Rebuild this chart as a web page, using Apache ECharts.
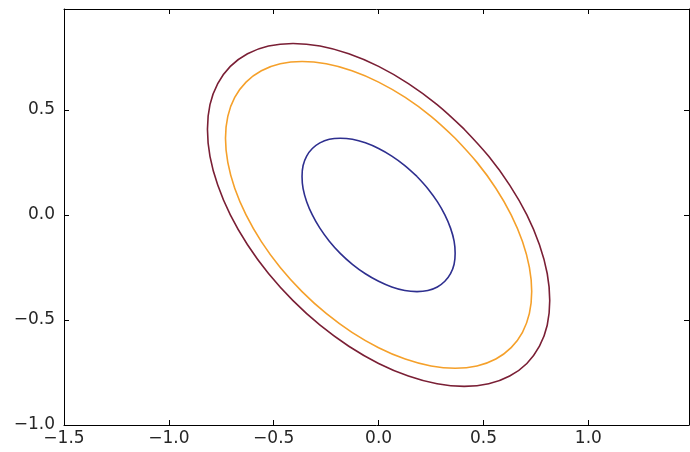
<!DOCTYPE html>
<html>
<head>
<meta charset="utf-8">
<script src="https://cdn.jsdelivr.net/npm/echarts@6/dist/echarts.min.js"></script>
<style>
  html, body { margin: 0; padding: 0; background: #fff; }
  #chart { width: 690px; height: 452px; }
</style>
</head>
<body>
<div id="chart"></div>
<script>
// contour lines (x, y points going round each ellipse)
var innerX = [0.183, 0.125, 0.063, 0.000, -0.063, -0.125, -0.183, -0.235, -0.280, -0.316, -0.343, -0.360, -0.365, -0.360, -0.343, -0.316, -0.280, -0.235,
              -0.183, -0.125, -0.063, 0.000, 0.063, 0.125, 0.183, 0.235, 0.280, 0.316, 0.343, 0.360, 0.365, 0.360, 0.343, 0.316, 0.280, 0.235, 0.183];
var innerY = [0.183, 0.235, 0.280, 0.316, 0.343, 0.360, 0.365, 0.360, 0.343, 0.316, 0.280, 0.235, 0.183, 0.125, 0.063, 0.000, -0.063, -0.125,
              -0.183, -0.235, -0.280, -0.316, -0.343, -0.360, -0.365, -0.360, -0.343, -0.316, -0.280, -0.235, -0.183, -0.125, -0.063, 0.000, 0.063, 0.125, 0.183];

var middleX = [0.365, 0.250, 0.127, 0.000, -0.127, -0.250, -0.365, -0.469, -0.559, -0.632, -0.686, -0.719, -0.730, -0.719, -0.686, -0.632, -0.559, -0.469,
               -0.365, -0.250, -0.127, 0.000, 0.127, 0.250, 0.365, 0.469, 0.559, 0.632, 0.686, 0.719, 0.730, 0.719, 0.686, 0.632, 0.559, 0.469, 0.365];
var middleY = [0.365, 0.469, 0.559, 0.632, 0.686, 0.719, 0.730, 0.719, 0.686, 0.632, 0.559, 0.469, 0.365, 0.250, 0.127, 0.000, -0.127, -0.250,
               -0.365, -0.469, -0.559, -0.632, -0.686, -0.719, -0.730, -0.719, -0.686, -0.632, -0.559, -0.469, -0.365, -0.250, -0.127, 0.000, 0.127, 0.250, 0.365];

var outerX = [0.408, 0.279, 0.142, 0.000, -0.142, -0.279, -0.408, -0.525, -0.625, -0.707, -0.767, -0.804, -0.816, -0.804, -0.767, -0.707, -0.625, -0.525,
              -0.408, -0.279, -0.142, 0.000, 0.142, 0.279, 0.408, 0.525, 0.625, 0.707, 0.767, 0.804, 0.816, 0.804, 0.767, 0.707, 0.625, 0.525, 0.408];
var outerY = [0.408, 0.525, 0.625, 0.707, 0.767, 0.804, 0.816, 0.804, 0.767, 0.707, 0.625, 0.525, 0.408, 0.279, 0.142, 0.000, -0.142, -0.279,
              -0.408, -0.525, -0.625, -0.707, -0.767, -0.804, -0.816, -0.804, -0.767, -0.707, -0.625, -0.525, -0.408, -0.279, -0.142, 0.000, 0.142, 0.279, 0.408];

// axis ranges and ticks
var xMin = -1.5, xMax = 1.48, yMin = -1.0, yMax = 0.98;
var tickStep = 0.5;

function pairs(xs, ys) {
    var out = [];
    for (var i = 0; i < xs.length; i++) out.push([xs[i], ys[i]]);
    return out;
}

function fmt(v) {
    return v.toFixed(1).replace('-', '\u2212');
}

var dom = document.getElementById('chart');
var myChart = echarts.init(dom, null, { renderer: 'canvas' });

var axisLine = { show: true, onZero: false, lineStyle: { color: '#000', width: 1 } };
var tick = { show: true, inside: true, length: 5, lineStyle: { color: '#000', width: 1 } };
var label = { color: '#262626', fontFamily: 'DejaVu Sans', fontSize: 17, formatter: fmt, showMaxLabel: false };

var option = {
    animation: false,
    backgroundColor: '#fff',
    grid: { left: 64, right: 1, top: 9, bottom: 27, containLabel: false },
    xAxis: [
        { type: 'value', min: xMin, max: xMax, interval: tickStep, position: 'bottom',
          axisLine: axisLine, axisTick: tick, splitLine: { show: false },
          axisLabel: Object.assign({}, label, { margin: 5 }) },
        { type: 'value', min: xMin, max: xMax, interval: tickStep, position: 'top',
          axisLine: axisLine, axisTick: tick, splitLine: { show: false }, axisLabel: { show: false } }
    ],
    yAxis: [
        { type: 'value', min: yMin, max: yMax, interval: tickStep, position: 'left',
          axisLine: axisLine, axisTick: tick, splitLine: { show: false },
          axisLabel: Object.assign({}, label, { margin: 9 }) },
        { type: 'value', min: yMin, max: yMax, interval: tickStep, position: 'right',
          axisLine: axisLine, axisTick: tick, splitLine: { show: false }, axisLabel: { show: false } }
    ],
    series: [
        { type: 'line', data: pairs(innerX, innerY), smooth: 0.35, showSymbol: false,
          lineStyle: { color: '#2e2f8f', width: 1.6 } },
        { type: 'line', data: pairs(middleX, middleY), smooth: 0.35, showSymbol: false,
          lineStyle: { color: '#f5a02a', width: 1.6 } },
        { type: 'line', data: pairs(outerX, outerY), smooth: 0.35, showSymbol: false,
          lineStyle: { color: '#7a1f35', width: 1.6 } }
    ]
};

myChart.setOption(option);
</script>
</body>
</html>
